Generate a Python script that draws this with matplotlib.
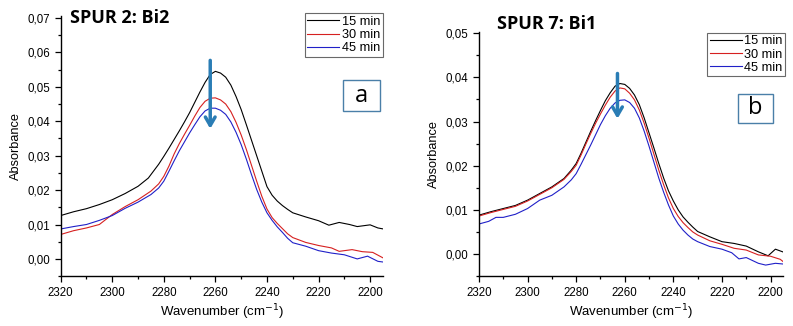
import numpy as np
import matplotlib
matplotlib.use("Agg")
import matplotlib.pyplot as plt
from matplotlib.patches import Rectangle
from matplotlib.ticker import MultipleLocator, FuncFormatter

# -------------------------
# Data
# -------------------------
labels = ["15 min", "30 min", "45 min"]
colors = ["black", "#d62020", "#2020c8"]

# panel a: SPUR 2: Bi2
a_wn_15 = [2320, 2315, 2310, 2305, 2300, 2295, 2290, 2286, 2284, 2282, 2280, 2278, 2276,
           2274, 2272, 2270, 2268, 2266, 2264, 2262, 2260, 2258, 2256, 2254, 2252, 2250,
           2248, 2246, 2244, 2242, 2240, 2238, 2236, 2234, 2232, 2230, 2225, 2220, 2216,
           2212, 2208, 2205, 2200, 2197, 2192]
a_abs_15 = [0.0126, 0.0137, 0.0146, 0.0158, 0.0172, 0.0190, 0.0211, 0.0235, 0.0255, 0.0275,
            0.0298, 0.0322, 0.0347, 0.0372, 0.0398, 0.0425, 0.0455, 0.0485, 0.0513, 0.0536,
            0.0545, 0.0540, 0.0528, 0.0505, 0.0472, 0.0434, 0.0390, 0.0345, 0.0300, 0.0255,
            0.0210, 0.0185, 0.0168, 0.0155, 0.0144, 0.0134, 0.0122, 0.0111, 0.0098, 0.0106,
            0.0100, 0.0094, 0.0099, 0.0090, 0.0083]
a_wn_30 = [2320, 2315, 2310, 2305, 2300, 2295, 2290, 2285, 2282, 2280, 2278, 2276, 2274,
           2272, 2270, 2268, 2266, 2264, 2262, 2260, 2258, 2256, 2254, 2252, 2250, 2248,
           2246, 2244, 2242, 2240, 2238, 2236, 2234, 2232, 2230, 2225, 2220, 2215, 2212,
           2207, 2203, 2199, 2195, 2192]
a_abs_30 = [0.0071, 0.0082, 0.0090, 0.0100, 0.0129, 0.0152, 0.0172, 0.0197, 0.0218, 0.0240,
            0.0270, 0.0305, 0.0335, 0.0362, 0.0388, 0.0415, 0.0440, 0.0458, 0.0467, 0.0468,
            0.0462, 0.0450, 0.0428, 0.0397, 0.0360, 0.0318, 0.0272, 0.0226, 0.0182, 0.0145,
            0.0120, 0.0103, 0.0088, 0.0073, 0.0062, 0.0048, 0.0039, 0.0032, 0.0022, 0.0027,
            0.0021, 0.0019, 0.0003, 0.0004]
a_wn_45 = [2320, 2315, 2310, 2305, 2300, 2295, 2290, 2285, 2282, 2280, 2278, 2276, 2274,
           2272, 2270, 2268, 2266, 2264, 2262, 2260, 2258, 2256, 2254, 2252, 2250, 2248,
           2246, 2244, 2242, 2240, 2238, 2236, 2234, 2232, 2230, 2225, 2220, 2215, 2210,
           2205, 2201, 2197, 2192]
a_abs_45 = [0.0087, 0.0094, 0.0100, 0.0112, 0.0126, 0.0147, 0.0165, 0.0187, 0.0206, 0.0226,
            0.0255, 0.0285, 0.0314, 0.0340, 0.0366, 0.0390, 0.0413, 0.0430, 0.0438, 0.0438,
            0.0432, 0.0420, 0.0398, 0.0368, 0.0332, 0.0290, 0.0245, 0.0202, 0.0165, 0.0134,
            0.0112, 0.0093, 0.0077, 0.0060, 0.0047, 0.0037, 0.0024, 0.0017, 0.0012, 0.0000,
            0.0008, -0.0007, -0.0012]

# panel b: SPUR 7: Bi1
b_wn_15 = [2320, 2315, 2310, 2305, 2300, 2295, 2290, 2285, 2282, 2280, 2278, 2276, 2274,
           2272, 2270, 2268, 2266, 2264, 2262, 2260, 2258, 2256, 2254, 2252, 2250, 2248,
           2246, 2244, 2242, 2240, 2238, 2236, 2234, 2232, 2230, 2225, 2220, 2215, 2210,
           2205, 2201, 2198, 2195, 2191]
b_abs_15 = [0.0088, 0.0096, 0.0103, 0.0110, 0.0122, 0.0137, 0.0152, 0.0171, 0.0190, 0.0205,
            0.0228, 0.0253, 0.0278, 0.0302, 0.0325, 0.0347, 0.0365, 0.0380, 0.0386, 0.0384,
            0.0375, 0.0360, 0.0338, 0.0308, 0.0274, 0.0240, 0.0205, 0.0172, 0.0143, 0.0120,
            0.0100, 0.0084, 0.0072, 0.0061, 0.0051, 0.0039, 0.0028, 0.0024, 0.0018, 0.0005,
            -0.0004, 0.0011, 0.0005, -0.0004]
b_wn_30 = [2320, 2315, 2310, 2305, 2300, 2295, 2290, 2285, 2282, 2280, 2278, 2276, 2274,
           2272, 2270, 2268, 2266, 2264, 2262, 2260, 2258, 2256, 2254, 2252, 2250, 2248,
           2246, 2244, 2242, 2240, 2238, 2236, 2234, 2232, 2230, 2225, 2220, 2215, 2210,
           2205, 2200, 2196, 2193, 2191]
b_abs_30 = [0.0086, 0.0094, 0.0101, 0.0108, 0.0120, 0.0135, 0.0150, 0.0169, 0.0187, 0.0201,
            0.0224, 0.0249, 0.0273, 0.0296, 0.0317, 0.0337, 0.0355, 0.0369, 0.0376, 0.0374,
            0.0364, 0.0349, 0.0326, 0.0296, 0.0262, 0.0226, 0.0190, 0.0157, 0.0127, 0.0103,
            0.0085, 0.0071, 0.0060, 0.0050, 0.0043, 0.0030, 0.0022, 0.0013, 0.0009, -0.0002,
            -0.0005, -0.0012, -0.0025, -0.0021]
b_wn_45 = [2320, 2316, 2313, 2310, 2305, 2300, 2295, 2290, 2285, 2282, 2280, 2278, 2276,
           2274, 2272, 2270, 2268, 2266, 2264, 2262, 2260, 2258, 2256, 2254, 2252, 2250,
           2248, 2246, 2244, 2242, 2240, 2238, 2236, 2234, 2232, 2230, 2225, 2220, 2216,
           2213, 2210, 2205, 2202, 2198, 2194, 2191]
b_abs_45 = [0.0068, 0.0074, 0.0083, 0.0083, 0.0090, 0.0103, 0.0122, 0.0133, 0.0152, 0.0168,
            0.0182, 0.0203, 0.0225, 0.0247, 0.0270, 0.0293, 0.0313, 0.0330, 0.0342, 0.0348,
            0.0349, 0.0343, 0.0330, 0.0308, 0.0278, 0.0244, 0.0208, 0.0172, 0.0140, 0.0111,
            0.0086, 0.0068, 0.0054, 0.0043, 0.0034, 0.0028, 0.0017, 0.0011, 0.0003, -0.0011,
            -0.0008, -0.0021, -0.0025, -0.0021, -0.0023, -0.0035]

panels = [
    dict(title="SPUR 2: Bi2", tag="a",
         series=[(a_wn_15, a_abs_15), (a_wn_30, a_abs_30), (a_wn_45, a_abs_45)],
         ylim=(-0.005, 0.0705), yticks=np.arange(0, 0.071, 0.01),
         arrow=(2262, 0.0585, 0.0370)),
    dict(title="SPUR 7: Bi1", tag="b",
         series=[(b_wn_15, b_abs_15), (b_wn_30, b_abs_30), (b_wn_45, b_abs_45)],
         ylim=(-0.005, 0.0502), yticks=np.arange(0, 0.051, 0.01),
         arrow=(2263, 0.0415, 0.0300)),
]

# -------------------------
# Figure layout
# -------------------------
plt.rcParams["font.family"] = ["Liberation Sans", "DejaVu Sans"]
fig = plt.figure(figsize=(7.93, 3.26), dpi=100)

axes_rects = [[0.0765, 0.153, 0.4065, 0.797],
              [0.604, 0.153, 0.383, 0.748]]
title_pos = [(0.088, 0.945), (0.627, 0.925)]
legend_anchor = [(0.999, 1.012), (1.009, 0.998)]
tag_rect = [(0.876, 0.635, 0.115, 0.12), (0.852, 0.628, 0.115, 0.119)]

comma = FuncFormatter(lambda v, p: f"{v:.2f}".replace(".", ","))

for i, p in enumerate(panels):
    ax = fig.add_axes(axes_rects[i])
    for (wn, ab), lab, c in zip(p["series"], labels, colors):
        ax.plot(wn, ab, color=c, lw=0.8, label=lab)

    ax.set_xlim(2320, 2195)
    ax.set_ylim(*p["ylim"])
    ax.set_yticks(p["yticks"])
    ax.xaxis.set_major_locator(MultipleLocator(20))
    ax.xaxis.set_minor_locator(MultipleLocator(10))
    ax.yaxis.set_minor_locator(MultipleLocator(0.005))
    ax.yaxis.set_major_formatter(comma)
    ax.tick_params(which="both", direction="out", labelsize=8.3, width=0.9)
    ax.tick_params(which="major", length=4)
    ax.tick_params(which="minor", length=2)
    ax.spines["top"].set_visible(False)
    ax.spines["right"].set_visible(False)
    for s in ("left", "bottom"):
        ax.spines[s].set_linewidth(1.0)

    ax.set_xlabel("Wavenumber (cm$^{-1}$)", fontsize=9.5, labelpad=3)
    ax.set_ylabel("Absorbance", fontsize=9.2, labelpad=4)

    leg = ax.legend(loc="upper right", bbox_to_anchor=legend_anchor[i], fontsize=9.2,
                    frameon=True, fancybox=False, handlelength=2.5,
                    handletextpad=0.2, borderpad=0.2, labelspacing=0.1,
                    borderaxespad=0)
    leg.get_frame().set_edgecolor("#444444")
    leg.get_frame().set_linewidth(0.8)

    fig.text(*title_pos[i], p["title"], fontsize=13, fontweight="bold",
             family=["Open Sans", "DejaVu Sans"], va="center")

    # boxed panel tag
    rx, ry, rw, rh = tag_rect[i]
    ax.add_patch(Rectangle((rx, ry), rw, rh, transform=ax.transAxes, fc="white",
                           ec="#4a7fa8", lw=1.0, zorder=5))
    ax.text(rx + rw / 2, ry + rh / 2, p["tag"], transform=ax.transAxes, fontsize=17,
            ha="center", va="center", zorder=6, family=["Open Sans", "DejaVu Sans"])

    ax_x, y0, y1 = p["arrow"]
    ax.annotate("", xy=(ax_x, y1), xytext=(ax_x, y0),
                arrowprops=dict(arrowstyle="->,head_length=0.6,head_width=0.35",
                                color="#2a7db5", lw=2.5))

fig.savefig("out.png", dpi=100)
